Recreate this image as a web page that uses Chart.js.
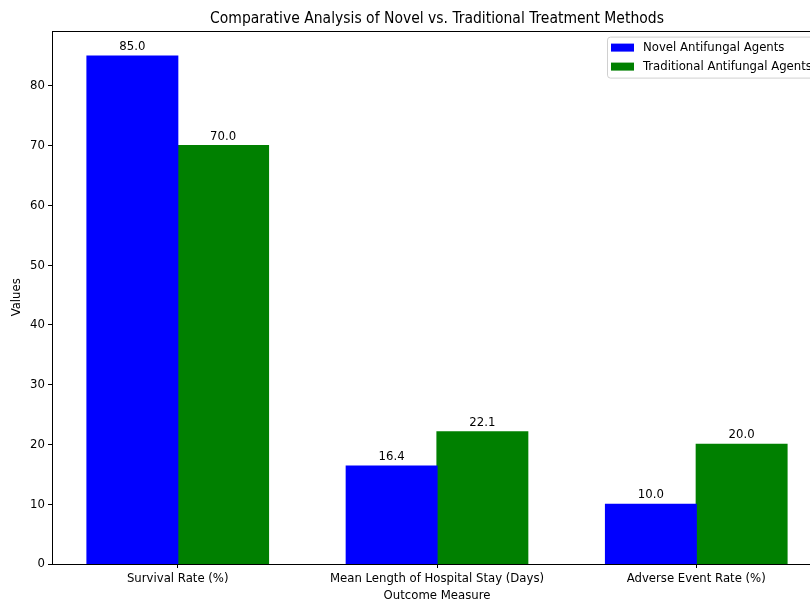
<!DOCTYPE html>
<html>
<head>
<meta charset="utf-8">
<script src="https://cdn.jsdelivr.net/npm/chart.js@4.4.1/dist/chart.umd.min.js"></script>
<style>
  html, body { margin: 0; padding: 0; background: #fff; overflow: hidden; }
  #wrap { width: 830px; height: 601px; }
</style>
</head>
<body>
<div id="wrap"><canvas id="myChart" width="830" height="601"></canvas></div>
<script>
let categories = ['Survival Rate (%)', 'Mean Length of Hospital Stay (Days)', 'Adverse Event Rate (%)'];
let novel = [85.0, 16.4, 10.0];
let traditional = [70.0, 22.1, 20.0];
let yTicks = [0, 10, 20, 30, 40, 50, 60, 70, 80];

let FONT = "'DejaVu Sans Condensed', 'Liberation Sans Narrow', 'DejaVu Sans', sans-serif";

Chart.defaults.font.family = FONT;
Chart.defaults.color = '#000';

let ctx = document.getElementById('myChart').getContext('2d');

let dataset2 = [
  {
    label: 'Novel Antifungal Agents',
    data: novel.map((v, i) => ({ x: i, y: v })),
    backgroundColor: '#0000ff',
    borderWidth: 0,
    inflateAmount: 0.6
  },
  {
    label: 'Traditional Antifungal Agents',
    data: traditional.map((v, i) => ({ x: i, y: v })),
    backgroundColor: '#008000',
    borderWidth: 0,
    inflateAmount: 0.6
  }
];

// frame around the plot area (all four spines)
let framePlugin = {
  id: 'frame',
  afterDraw(chart) {
    let a = chart.chartArea;
    let c = chart.ctx;
    c.save();
    c.strokeStyle = '#000';
    c.lineWidth = 1;
    c.strokeRect(Math.round(a.left) + 0.5, Math.round(a.top) + 0.5,
      Math.round(a.right - a.left), Math.round(a.bottom - a.top));
    c.restore();
  }
};

// value printed above every bar
let valuePlugin = {
  id: 'values',
  afterDatasetsDraw(chart) {
    let c = chart.ctx;
    c.save();
    c.font = '13px ' + FONT;
    c.fillStyle = '#000';
    c.textAlign = 'center';
    c.textBaseline = 'bottom';
    chart.data.datasets.forEach((ds, di) => {
      chart.getDatasetMeta(di).data.forEach((bar, i) => {
        c.fillText(ds.data[i].y.toFixed(1), bar.x, bar.y - 3);
      });
    });
    c.restore();
  }
};

// legend box in the upper right corner
let legendPlugin = {
  id: 'boxLegend',
  afterDraw(chart) {
    let a = chart.chartArea;
    let c = chart.ctx;
    let x = 607, y = a.top + 6, w = 230, h = 41;
    c.save();
    c.fillStyle = 'rgba(255,255,255,0.8)';
    c.strokeStyle = '#d0d0d0';
    c.lineWidth = 1;
    c.beginPath();
    c.roundRect(x + 0.5, y + 0.5, w, h, 3);
    c.fill();
    c.stroke();
    c.font = '13px ' + FONT;
    c.textBaseline = 'middle';
    c.textAlign = 'left';
    chart.data.datasets.forEach((ds, i) => {
      let cy = y + 11 + i * 19;
      c.fillStyle = ds.backgroundColor;
      c.fillRect(x + 4, cy - 4, 23, 8);
      c.fillStyle = '#000';
      c.fillText(ds.label, x + 36, cy);
    });
    c.restore();
  }
};

let myChart = new Chart(ctx, {
  type: 'bar',
  data: { datasets: dataset2 },
  options: {
    responsive: false,
    animation: false,
    layout: { padding: { left: 0, right: 8, top: 0, bottom: 0 } },
    datasets: {
      bar: { categoryPercentage: 0.7, barPercentage: 1.0 }
    },
    plugins: {
      legend: { display: false },
      tooltip: { enabled: false },
      title: {
        display: true,
        fullSize: false,
        text: 'Comparative Analysis of Novel vs. Traditional Treatment Methods',
        color: '#000',
        font: { size: 15.5, weight: 'normal' },
        padding: { top: 10, bottom: 2 }
      }
    },
    scales: {
      x: {
        type: 'linear',
        offset: false,
        min: -0.485,
        max: 2.485,
        afterBuildTicks(scale) {
          scale.ticks = categories.map((c, i) => ({ value: i }));
        },
        afterFit(scale) { scale.height = 37; },
        ticks: {
          callback: (v) => categories[v],
          font: { size: 13 },
          padding: 3,
          maxRotation: 0,
          autoSkip: false
        },
        grid: { offset: false, drawOnChartArea: false, drawTicks: true, tickLength: 4, tickColor: '#000' },
        border: { display: false },
        title: {
          display: true,
          text: 'Outcome Measure',
          font: { size: 13 },
          padding: { top: 0, bottom: -2 }
        }
      },
      y: {
        min: 0,
        max: 89.25,
        afterBuildTicks(scale) {
          scale.ticks = yTicks.map(v => ({ value: v }));
        },
        afterFit(scale) { scale.width = 52; },
        ticks: { font: { size: 13 }, padding: 3 },
        grid: { drawOnChartArea: false, drawTicks: true, tickLength: 4, tickColor: '#000' },
        border: { display: false },
        title: {
          display: true,
          text: 'Values',
          font: { size: 13 },
          padding: { top: 9, bottom: 0 }
        }
      }
    }
  },
  plugins: [framePlugin, valuePlugin, legendPlugin]
});
</script>
</body>
</html>
